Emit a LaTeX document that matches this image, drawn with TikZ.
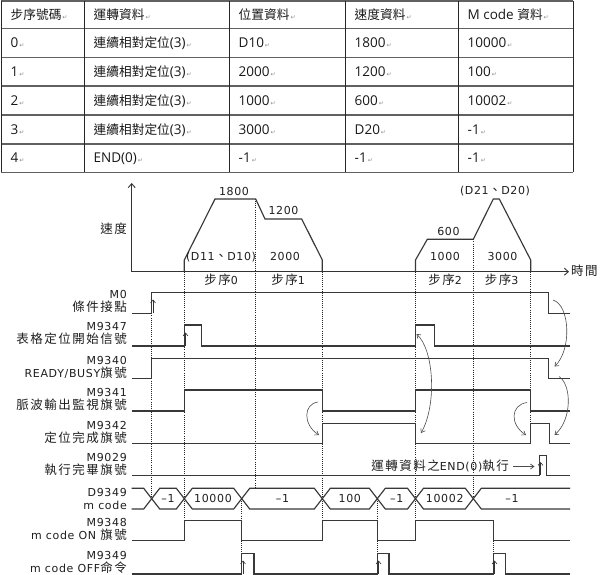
\documentclass[tikz,border=0pt]{standalone}
\usepackage{fontspec}
\usetikzlibrary{arrows.meta}
\setmainfont{Noto Sans CJK TC}
\newfontfamily\cjkTab{Noto Sans CJK TC}
\newfontfamily\latTab{Open Sans}
\newfontfamily\cjkDia{Noto Sans CJK TC}[LetterSpace=12]
\newfontfamily\latDia{DejaVu Sans}[LetterSpace=6]
\newfontfamily\dvsans{DejaVu Sans}
\newcommand{\tabcj}[1]{{\cjkTab\fontsize{12.7}{14}\selectfont #1}}
\newcommand{\tablt}[1]{{\latTab\fontsize{13.5}{15}\selectfont #1}}
\newcommand{\parmk}{{\dvsans\fontsize{6}{6}\selectfont\color{black!45}\,↵}}
\newcommand{\dgcj}[1]{{\cjkDia\fontsize{12.5}{13.5}\selectfont #1}}
\newcommand{\dglt}[1]{{\latDia\fontsize{11}{12}\selectfont #1}}
\tikzset{
  tblh/.style={line width=1.3pt, draw=black!62},
  tblv/.style={line width=0.8pt, draw=black!85},
  tcellst/.style={anchor=base west, inner sep=0pt, text=black!90},
  sig/.style={line width=1.15pt, draw=black!78, line join=miter, line cap=butt},
  dotl/.style={line width=0.55pt, draw=black!85, dash pattern=on 0.8pt off 1.3pt},
  crv/.style={line width=0.6pt, draw=black!70, -{Straight Barb[length=3.5pt,width=5pt]}},
  uparr/.style={line width=0.6pt, draw=black!80, -{Straight Barb[length=3pt,width=5pt]}},
  axisst/.style={line width=0.9pt, draw=black!80, -{Straight Barb[length=4pt,width=7pt]}},
  lbl/.style={anchor=east, inner sep=0pt, text height=8.4pt, text depth=0pt, text=black!88},
  val/.style={inner sep=0pt, text height=8.4pt, text depth=0pt, text=black!88},
}
\begin{document}
\begin{tikzpicture}[x=1pt,y=-1pt]
\useasboundingbox (0,0) rectangle (600,575);
\fill[white] (0,0) rectangle (600,575);
% ---------------- table ----------------
\foreach \yy in {1,28.5,57.3,86,115,144,172.5} \draw[tblh] (1,\yy) -- (573,\yy);
\foreach \xx in {1,84,229,345,458,573} \draw[tblv] (\xx,1) -- (\xx,172.5);
\node[tcellst] (h1) at (10.5,19.5) {\tabcj{步序號碼}\parmk};
\node[tcellst] (h2) at (93.5,19.5) {\tabcj{運轉資料}\parmk};
\node[tcellst] (h3) at (238.5,19.5) {\tabcj{位置資料}\parmk};
\node[tcellst] (h4) at (354.5,19.5) {\tabcj{速度資料}\parmk};
\node[tcellst] (h5) at (467.5,19.5) {\tablt{M code }\tabcj{資料}\parmk};
% row 0
\node[tcellst] (r0a) at (10.5,47.7) {\tablt{0}\parmk};
\node[tcellst] (r0b) at (93.5,47.7) {\tabcj{連續相對定位}\tablt{(3)}\parmk};
\node[tcellst] (r0c) at (238.5,47.7) {\tablt{D10}\parmk};
\node[tcellst] (r0d) at (354.5,47.7) {\tablt{1800}\parmk};
\node[tcellst] (r0e) at (467.5,47.7) {\tablt{10000}\parmk};
% row 1
\node[tcellst] (r1a) at (10.5,76.4) {\tablt{1}\parmk};
\node[tcellst] (r1b) at (93.5,76.4) {\tabcj{連續相對定位}\tablt{(3)}\parmk};
\node[tcellst] (r1c) at (238.5,76.4) {\tablt{2000}\parmk};
\node[tcellst] (r1d) at (354.5,76.4) {\tablt{1200}\parmk};
\node[tcellst] (r1e) at (467.5,76.4) {\tablt{100}\parmk};
% row 2
\node[tcellst] (r2a) at (10.5,105.3) {\tablt{2}\parmk};
\node[tcellst] (r2b) at (93.5,105.3) {\tabcj{連續相對定位}\tablt{(3)}\parmk};
\node[tcellst] (r2c) at (238.5,105.3) {\tablt{1000}\parmk};
\node[tcellst] (r2d) at (354.5,105.3) {\tablt{600}\parmk};
\node[tcellst] (r2e) at (467.5,105.3) {\tablt{10002}\parmk};
% row 3
\node[tcellst] (r3a) at (10.5,134.3) {\tablt{3}\parmk};
\node[tcellst] (r3b) at (93.5,134.3) {\tabcj{連續相對定位}\tablt{(3)}\parmk};
\node[tcellst] (r3c) at (238.5,134.3) {\tablt{3000}\parmk};
\node[tcellst] (r3d) at (354.5,134.3) {\tablt{D20}\parmk};
\node[tcellst] (r3e) at (467.5,134.3) {\tablt{-1}\parmk};
% row 4
\node[tcellst] (r4a) at (10.5,163) {\tablt{4}\parmk};
\node[tcellst] (r4b) at (93.5,163) {\tablt{END(0)}\parmk};
\node[tcellst] (r4c) at (238.5,163) {\tablt{-1}\parmk};
\node[tcellst] (r4d) at (354.5,163) {\tablt{-1}\parmk};
\node[tcellst] (r4e) at (467.5,163) {\tablt{-1}\parmk};
% ---------------- dotted guide lines ----------------
\draw[dotl] (151.7,292.3) -- (151.7,498.7);
\draw[dotl] (184.3,271.7) -- (184.3,520.7);
\draw[dotl] (255.7,199) -- (255.7,488.3);
\draw[dotl] (322.3,271.7) -- (322.3,520.7);
\draw[dotl] (415.5,271.7) -- (415.5,520.7);
\draw[dotl] (473.3,239.3) -- (473.3,498.7);
\draw[dotl] (530.7,271.7) -- (530.7,443.3);
\draw[dotl] (241.7,498.7) -- (241.7,553.3);
\draw[dotl] (377.3,498.7) -- (377.3,553.3);
\draw[dotl] (493.3,540.7) -- (493.3,553.3);
% ---------------- speed graph ----------------
\draw[axisst] (131.7,271.7) -- (131.7,183);
\draw[axisst] (131.7,271.7) -- (569,271.7);
\draw[sig] (184.3,271.7) -- (184.3,260) -- (215,199) -- (255.7,199) -- (265,219) -- (301.7,219) -- (322.3,260) -- (322.3,271.7);
\draw[sig] (415.5,271.7) -- (415.5,260) -- (427.3,239.3) -- (473.3,239.3) -- (493.3,199) -- (499.3,199) -- (530.7,260) -- (530.7,271.7);
\node[val] (speed) at (113.5,229) {\dgcj{速度}};
\node[val, anchor=west] (time) at (571,271.7) {\dgcj{時間}};
\node[val] (v1800) at (234,191) {\dglt{1800}};
\node[val] (v1200) at (283.5,210.5) {\dglt{1200}};
\node[val] (vD10) at (221,256) {\dglt{(D11}\dgcj{、}\dglt{D10)}};
\node[val] (v2000) at (285,256) {\dglt{2000}};
\node[val] (v600) at (448.5,231.5) {\dglt{600}};
\node[val] (vD20) at (495,190) {\dglt{(D21}\dgcj{、}\dglt{D20)}};
\node[val] (v1000) at (445,256) {\dglt{1000}};
\node[val] (v3000) at (502.5,256) {\dglt{3000}};
\node[val] (s0) at (221,280.5) {\dgcj{步序}\dglt{0}};
\node[val] (s1) at (288,280.5) {\dgcj{步序}\dglt{1}};
\node[val] (s2) at (445,280.5) {\dgcj{步序}\dglt{2}};
\node[val] (s3) at (501.7,280.5) {\dgcj{步序}\dglt{3}};
% ---------------- signal labels ----------------
\node[lbl] (lM0) at (127,294) {\dglt{M0}};
\node[lbl] (lM0b) at (127,307.5) {\dgcj{條件接點}};
\node[lbl] (lM9347) at (127,326.5) {\dglt{M9347}};
\node[lbl] (lM9347b) at (127,339.5) {\dgcj{表格定位開始信號}};
\node[lbl] (lM9340) at (127,360.5) {\dglt{M9340}};
\node[lbl] (lM9340b) at (127,373) {\dglt{READY/BUSY}\dgcj{旗號}};
\node[lbl] (lM9341) at (127,392.5) {\dglt{M9341}};
\node[lbl] (lM9341b) at (127,405.5) {\dgcj{脈波輸出監視旗號}};
\node[lbl] (lM9342) at (127,425) {\dglt{M9342}};
\node[lbl] (lM9342b) at (127,438) {\dgcj{定位完成旗號}};
\node[lbl] (lM9029) at (127,457) {\dglt{M9029}};
\node[lbl] (lM9029b) at (127,470.5) {\dgcj{執行完畢旗號}};
\node[lbl] (lD9349) at (127,492.7) {\dglt{D9349}};
\node[lbl] (lD9349b) at (127,505) {\dglt{m code}};
\node[lbl] (lM9348) at (127,522) {\dglt{M9348}};
\node[lbl] (lM9348b) at (127,535.5) {\dglt{m code ON }\dgcj{旗號}};
\node[lbl] (lM9349) at (127,555) {\dglt{M9349}};
\node[lbl] (lM9349b) at (127,568.5) {\dglt{m code OFF}\dgcj{命令}};
% ---------------- signals ----------------
\draw[sig] (131.7,313.3) -- (151.7,313.3) -- (151.7,292.3) -- (548.3,292.3) -- (548.3,313.3) -- (570,313.3);
\draw[sig] (131.7,346) -- (184.3,346) -- (184.3,325) -- (201.7,325) -- (201.7,346) -- (415.5,346) -- (415.5,325) -- (434.3,325) -- (434.3,346) -- (570,346);
\draw[sig] (131.7,378.3) -- (151.7,378.3) -- (151.7,358.3) -- (548.3,358.3) -- (548.3,378.3) -- (570,378.3);
\draw[sig] (131.7,411) -- (184.3,411) -- (184.3,390) -- (322.3,390) -- (322.3,411) -- (415.5,411) -- (415.5,390) -- (530.7,390) -- (530.7,411) -- (570,411);
\draw[sig] (131.7,443.3) -- (322.3,443.3) -- (322.3,423.3) -- (415.5,423.3) -- (415.5,443.3) -- (530.7,443.3) -- (530.7,423.3) -- (549.3,423.3) -- (549.3,443.3) -- (570,443.3);
\draw[sig] (131.7,475.5) -- (539.3,475.5) -- (539.3,455.7) -- (546.7,455.7) -- (546.7,475.5) -- (570,475.5);
% D9349 bus
\draw[sig] (131.7,488.3) -- (143.7,488.3) -- (159.7,509) -- (176.3,509) -- (192.3,488.3) -- (233.7,488.3) -- (249.7,509) -- (314.3,509) -- (330.3,488.3) -- (369.3,488.3) -- (385.3,509) -- (407.5,509) -- (423.5,488.3) -- (465.3,488.3) -- (481.3,509) -- (570,509);
\draw[sig] (131.7,509) -- (143.7,509) -- (159.7,488.3) -- (176.3,488.3) -- (192.3,509) -- (233.7,509) -- (249.7,488.3) -- (314.3,488.3) -- (330.3,509) -- (369.3,509) -- (385.3,488.3) -- (407.5,488.3) -- (423.5,509) -- (465.3,509) -- (481.3,488.3) -- (570,488.3);
\node[val] (b1) at (168,498.7) {\dglt{–1}};
\node[val] (b2) at (213,498.7) {\dglt{10000}};
\node[val] (b3) at (282.5,498.7) {\dglt{–1}};
\node[val] (b4) at (349.8,498.7) {\dglt{100}};
\node[val] (b5) at (396.7,498.7) {\dglt{–1}};
\node[val] (b6) at (444.7,498.7) {\dglt{10002}};
\node[val] (b7) at (512,498.7) {\dglt{–1}};
\draw[sig] (131.7,540.7) -- (184.3,540.7) -- (184.3,520.7) -- (241.7,520.7) -- (241.7,540.7) -- (322.3,540.7) -- (322.3,520.7) -- (377.3,520.7) -- (377.3,540.7) -- (415.5,540.7) -- (415.5,520.7) -- (493.3,520.7) -- (493.3,540.7) -- (570,540.7);
\draw[sig] (131.7,574) -- (241.7,574) -- (241.7,553.3) -- (254,553.3) -- (254,574) -- (377.3,574) -- (377.3,553.3) -- (389,553.3) -- (389,574) -- (493.3,574) -- (493.3,553.3) -- (505.7,553.3) -- (505.7,574) -- (570,574);
% ---------------- rising-edge arrows ----------------
\draw[uparr] (153,313) -- (153,299.5);
\draw[uparr] (185.5,345.5) -- (185.5,332.5);
\draw[uparr] (540.5,475) -- (540.5,462);
\draw[uparr] (243,573.5) -- (243,560.5);
\draw[uparr] (378.5,573.5) -- (378.5,560.5);
\draw[uparr] (494.5,573.5) -- (494.5,560.5);
% ---------------- curved arrows ----------------
\draw[crv] (318,402) .. controls (303,404) and (303,425) .. (319,435);
\draw[crv, {Straight Barb[length=3.5pt,width=5pt]}-{Straight Barb[length=3.5pt,width=5pt]}] (421,433) .. controls (437,405) and (434,350) .. (416.5,334);
\draw[crv] (553,300) .. controls (570,305) and (572,350) .. (554.5,366.5);
\draw[crv] (559,376.5) .. controls (572,385) and (572,420) .. (554.5,435);
\draw[crv] (527,402.5) .. controls (510,405) and (510,425) .. (526,435);
% ---------------- END(0) note ----------------
\node[lbl] (endtxt) at (509,466.5) {\dgcj{運轉資料之}\dglt{END(0)}\dgcj{執行}};
\coordinate (endarr) at (534.5,466.5);
\draw[crv, line width=0.7pt] ([xshift=4pt]endtxt.east) -- (endarr);
\end{tikzpicture}
\end{document}
